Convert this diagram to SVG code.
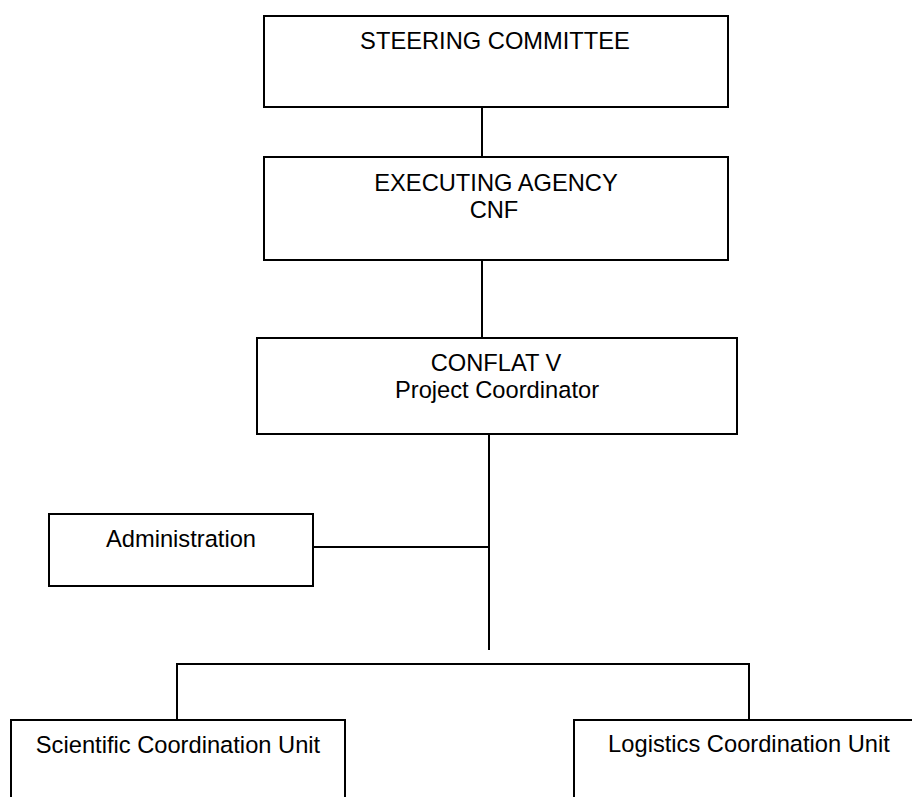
<svg xmlns="http://www.w3.org/2000/svg" width="912" height="797" viewBox="0 0 912 797">
<style>
.box{fill:#fff;stroke:#000;stroke-width:2}
.ln{stroke:#000;stroke-width:2;fill:none}
text{font-family:"Liberation Sans",Arial,sans-serif;font-size:23.7px;fill:#000;text-anchor:middle}
</style>
<rect width="912" height="797" fill="#fff"/>
<g id="connectors">
<line class="ln" x1="482" y1="107" x2="482" y2="157"/>
<line class="ln" x1="482" y1="260" x2="482" y2="338"/>
<line class="ln" x1="489" y1="434" x2="489" y2="650"/>
<line class="ln" x1="309" y1="547" x2="489" y2="547"/>
<polyline class="ln" points="177,720 177,664 749,664 749,720"/>
</g>
<g id="steering">
<rect class="box" x="264" y="16" width="464" height="91"/>
<text x="495" y="49">STEERING COMMITTEE</text>
</g>
<g id="executing">
<rect class="box" x="264" y="157" width="464" height="103"/>
<text x="496" y="191">EXECUTING AGENCY</text>
<text x="494" y="218">CNF</text>
</g>
<g id="conflat">
<rect class="box" x="257" y="338" width="480" height="96"/>
<text x="496" y="371">CONFLAT V</text>
<text x="497" y="398">Project Coordinator</text>
</g>
<g id="administration">
<rect class="box" x="49" y="514" width="264" height="72"/>
<text x="181" y="547">Administration</text>
</g>
<g id="scientific">
<rect class="box" x="11" y="720" width="334" height="100"/>
<text x="178" y="753">Scientific Coordination Unit</text>
</g>
<g id="logistics">
<rect class="box" x="574" y="720" width="360" height="100"/>
<text x="749" y="752">Logistics Coordination Unit</text>
</g>
</svg>
